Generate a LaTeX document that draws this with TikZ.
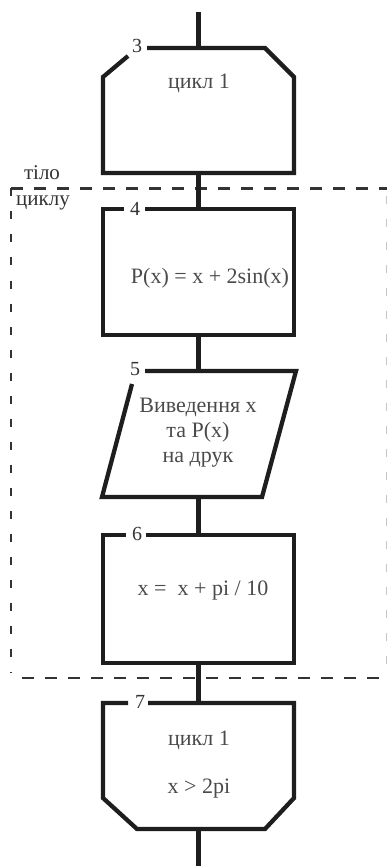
\documentclass[tikz,border=0pt]{standalone}
\usepackage{fontspec}
\setmainfont{Liberation Serif}
\definecolor{txt}{HTML}{4A4A4A}
\definecolor{lbl}{HTML}{333333}
\definecolor{ln}{HTML}{1E1E1E}
\definecolor{dsh}{HTML}{333333}
\begin{document}
\begin{tikzpicture}[x=1pt,y=-1pt,
  outline/.style={draw=ln,line width=4.3pt,line join=miter},
  area/.style={inner sep=0pt,minimum width=191pt},
  txtnode/.style={text=txt,font=\fontsize{22}{25}\selectfont,align=center,inner sep=0pt},
  sidetxt/.style={text=lbl,font=\fontsize{21}{25}\selectfont,inner sep=0pt,anchor=base},
  numlbl/.style={text=lbl,font=\fontsize{20}{20}\selectfont,inner sep=0pt},
  hdash/.style={draw=dsh,line width=2.5pt,dash pattern=on 12pt off 11pt},
  vdash/.style={draw=dsh,line width=2.5pt,dash pattern=on 8pt off 15pt}]
\useasboundingbox (0,0) rectangle (387,866);
% invisible areas
\node[area,minimum height=125pt] (b3) at (198.5,110.5) {};
\node[area,minimum height=126pt] (b4) at (198.5,272) {};
\node[area,minimum height=126pt] (b5) at (198.5,434) {};
\node[area,minimum height=128pt] (b6) at (198.5,599) {};
\node[area,minimum height=126pt] (b7) at (198.5,766) {};
\coordinate (top) at (198.5,12);
\coordinate (bot) at (198.5,866);
% dashed loop body frame
\coordinate (dtl) at (11,188.5);
\coordinate (dtr) at (387,188.5);
\coordinate (dbl) at (11,678);
\coordinate (dbr) at (387,678);
\draw[hdash] (dtl) -- (dtr);
\draw[hdash] (22,678) -- (dbr);
\draw[vdash] (11,188.5) -- (11,673);
\draw[draw=gray!45,line width=1pt,dash pattern=on 8pt off 15pt] (386.5,196) -- (386.5,673);
\node[sidetxt] (t1) at (42,180) {тіло};
\node[sidetxt] (t2) at (43,206) {циклу};
% connectors
\draw[outline] (top) -- (b3.north);
\draw[outline] (b3.south) -- (b4.north);
\draw[outline] (b4.south) -- (b5.north);
\draw[outline] (b5.south) -- (b6.north);
\draw[outline] (b6.south) -- (b7.north);
\draw[outline] (b7.south) -- (bot);
% box 3: loop start
\draw[outline] (147,48) -- (265,48) -- (294,77) -- (294,173) -- (103,173) -- (103,77) -- (128,56);
\node[numlbl] (n3) at (137,46) {3};
\node[txtnode] (c3) at (199,83) {цикл 1};
% box 4
\draw[outline] (145,209) -- (294,209) -- (294,335) -- (103,335) -- (103,209) -- (124,209);
\node[numlbl] (n4) at (135,209) {4};
\node[txtnode] (c4) at (210,278) {P(x) = x + 2sin(x)};
% box 5: input/output
\draw[outline] (145,371) -- (296,371) -- (262,497) -- (102,497) -- (132,384);
\node[numlbl] (n5) at (135,369) {5};
\node[txtnode] (c5) at (198,433) {Виведення x\\та P(x)\\на друк};
% box 6
\draw[outline] (146,535) -- (294,535) -- (294,663) -- (103,663) -- (103,535) -- (126,535);
\node[numlbl] (n6) at (137,534) {6};
\node[txtnode] (c6) at (203,591) {x =\ \ x + pi / 10};
% box 7: loop end
\draw[outline] (148,703) -- (294,703) -- (294,798) -- (265,829) -- (137,829) -- (103,798) -- (103,703) -- (128,703);
\node[numlbl] (n7) at (140,702) {7};
\node[txtnode] (c7a) at (199,740) {цикл 1};
\node[txtnode] (c7b) at (199,789) {x > 2pi};
\end{tikzpicture}
\end{document}
